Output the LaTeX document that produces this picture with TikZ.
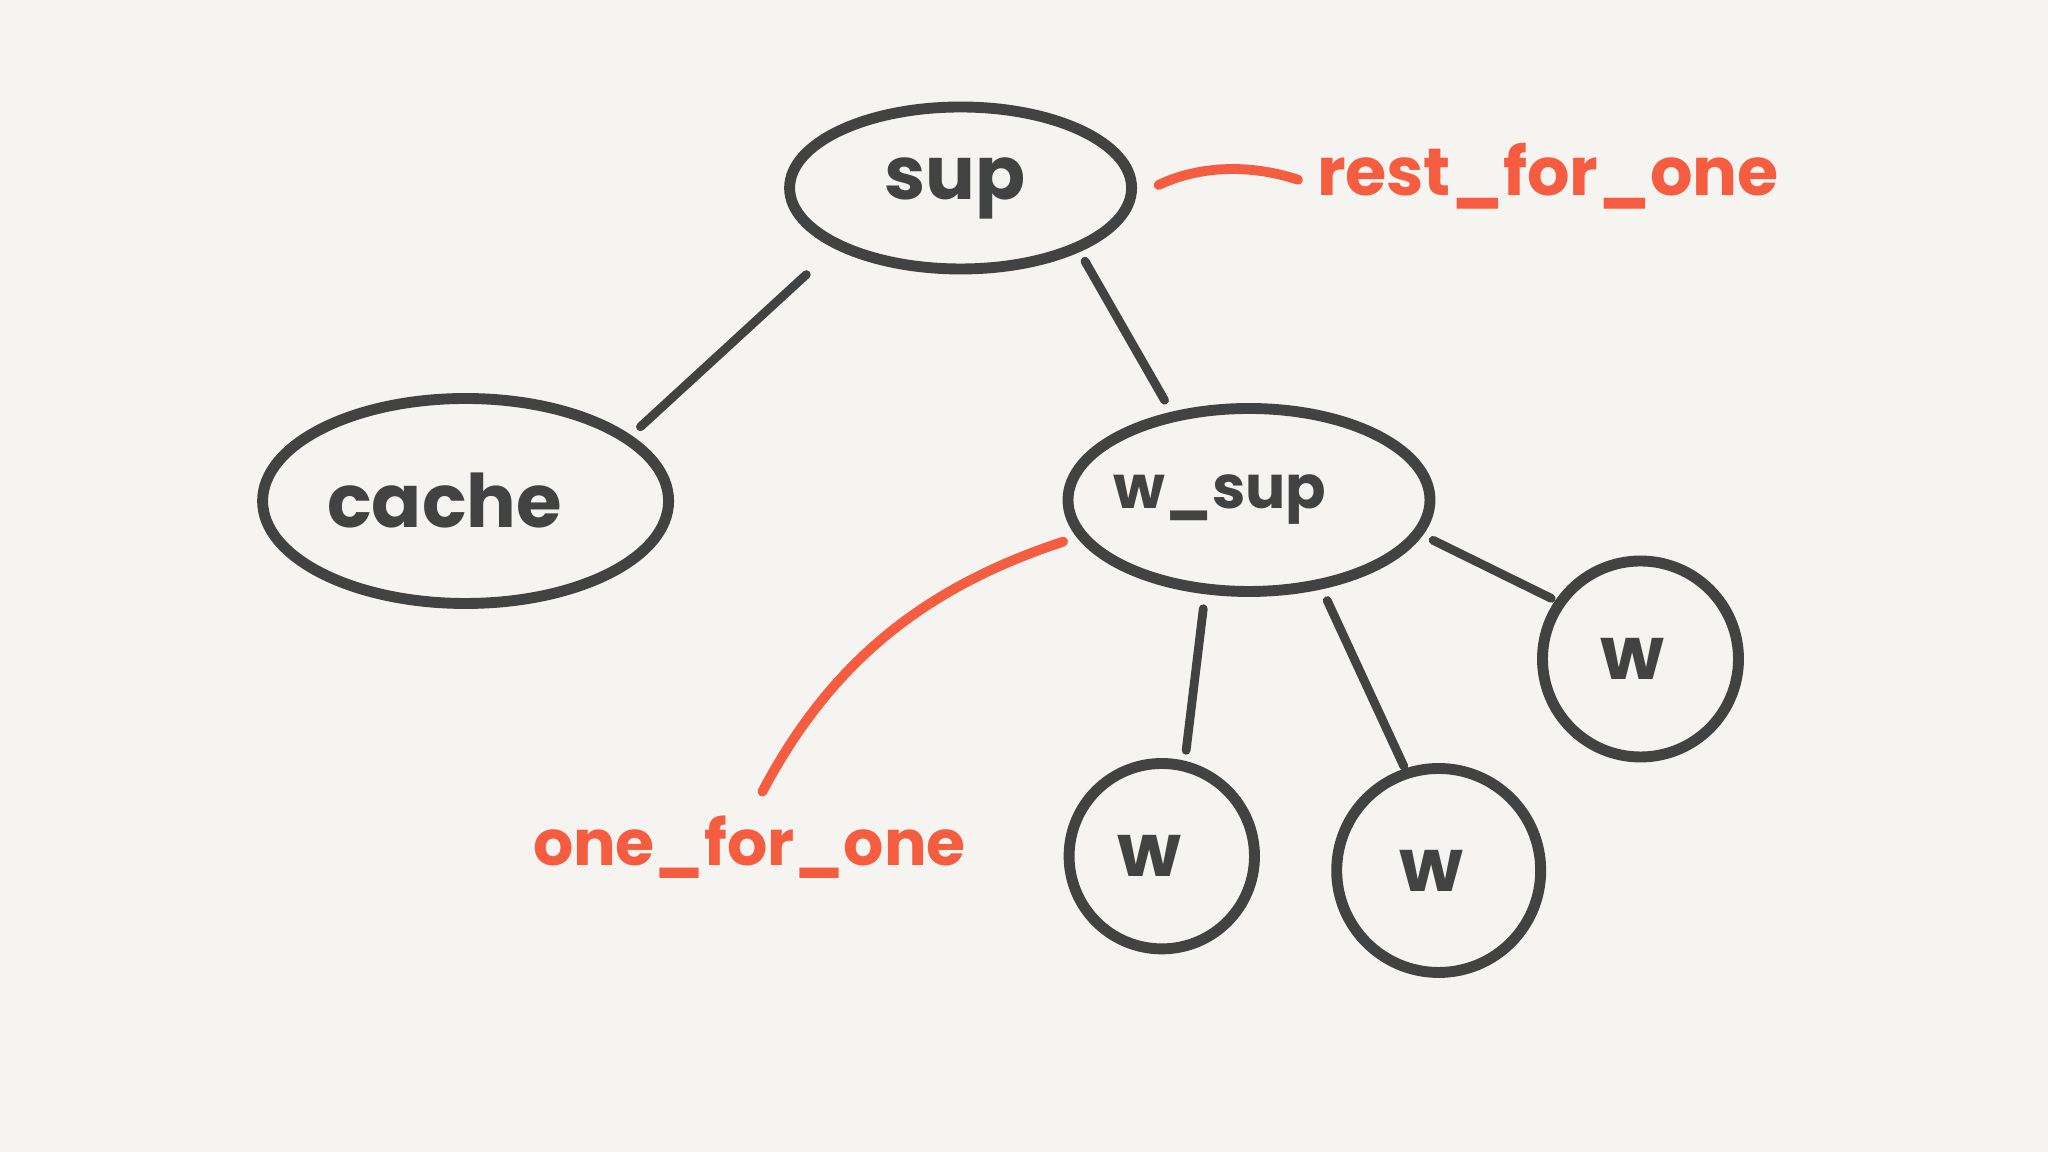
\documentclass[tikz,border=0pt]{standalone}
\usepackage{fontspec}
\setmainfont{Poppins}
\usetikzlibrary{shapes.geometric}

\definecolor{pencil}{RGB}{65,67,66}
\definecolor{marker}{RGB}{246,92,63}
\definecolor{paper}{RGB}{245,244,240}

\begin{document}
\begin{tikzpicture}[
		x=1cm,y=1cm,
		every node/.style={font=\bfseries\fontsize{21}{24}\selectfont, text=pencil},
		proc/.style={draw=pencil, line width=3.1pt, ellipse, inner sep=0pt, outer sep=0pt},
		worker/.style={draw=pencil, line width=3.1pt, circle, inner sep=0pt, outer sep=0pt},
		link/.style={draw=pencil, line width=2.5pt, line cap=round},
		note/.style={text=marker, inner sep=0pt, outer sep=0pt, font=\bfseries\fontsize{18}{20}\selectfont},
		notelink/.style={draw=marker, line width=2.8pt, line cap=round}
		]
		
		% paper
		\fill[paper] (0,0) rectangle (20.48,11.52);
		\useasboundingbox (0,0) rectangle (20.48,11.52);
		
		% =========================
		% supervision tree
		% =========================
		\node[proc, minimum width=3.42cm, minimum height=1.62cm] (sup) at (9.606,9.64) {sup\hspace*{0.12cm}};
		\node[proc, minimum width=4.06cm, minimum height=2.05cm] (cache) at (4.656,6.51) {cache\hspace*{0.42cm}};
		\node[proc, minimum width=3.62cm, minimum height=1.83cm, font=\bfseries\fontsize{17}{20}\selectfont] (w_sup) at (12.49,6.52) {\makebox[0pt]{w\_sup\hspace*{0.58cm}}};
		
		\node[worker, minimum size=1.854cm] (w1) at (11.618,2.958) {w\hspace*{0.25cm}};
		\node[worker, minimum size=2.04cm] (w2) at (14.387,2.815) {w\hspace*{0.14cm}};
		\node[worker, minimum size=1.96cm] (w3) at (16.405,4.93) {w\hspace*{0.16cm}};
		
		\draw[link, shorten <=0.44cm, shorten >=0.18cm] (sup.205.2) -- (cache.21.6);
		\draw[link, shorten <=0.16cm, shorten >=0.19cm] (sup.333.4) -- (w_sup.132.1);
		\draw[link, shorten <=0.20cm, shorten >=0.16cm] (w_sup.244.3) -- (w1.76.8);
		\draw[link, shorten <=0.18cm, shorten >=0.08cm] (w_sup.310.7) -- (w2.108.9);
		\draw[link, shorten <=0.17cm, shorten >=0.10cm] (w_sup.349.3) -- (w3.145.5);
		
		% =========================
		% restart strategies
		% =========================
		\node[note, anchor=base west, font=\bfseries\fontsize{19}{20}\selectfont] (rest) at (13.17,9.56) {rest\_for\_one};
		\node[note, anchor=base west] (one) at (5.33,2.86) {one\_for\_one};
		
		\draw[notelink, shorten <=0.3cm, shorten >=0.2cm] ([yshift=-0.1cm]sup.east) to[bend left=22] ([yshift=0.1cm]rest.base west);
		\draw[notelink, shorten <=0.28cm, shorten >=0.2cm] (one.north) to[bend left=22] (w_sup.192);
	\end{tikzpicture}
\end{document}
